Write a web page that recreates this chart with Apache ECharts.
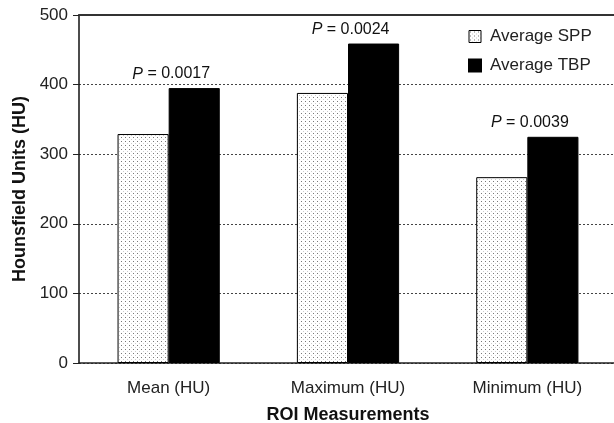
<!DOCTYPE html>
<html lang="en">
<head>
    <meta charset="UTF-8">
    <title>ROI Measurements</title>
    <style>
        html, body { margin: 0; padding: 0; background: #fff; }
        #main { width: 614px; height: 423px; }
    </style>
</head>
<body>
<div id="main"></div>
<script src="https://cdn.jsdelivr.net/npm/echarts@6/dist/echarts.min.js"></script>
<script type="text/javascript">
    // data
    var categories = ['Mean (HU)', 'Maximum (HU)', 'Minimum (HU)'];
    var avgSPP = [329, 388, 267];
    var avgTBP = [395, 459, 325];
    var pValues = ['0.0017', '0.0024', '0.0039'];
    var yTicks = [0, 100, 200, 300, 400, 500];

    var font = 'Liberation Sans, Arial, sans-serif';

    // dotted fill for the SPP bars
    var dots = document.createElement('canvas');
    dots.width = 4;
    dots.height = 4;
    var g = dots.getContext('2d');
    g.fillStyle = '#fff';
    g.fillRect(0, 0, 4, 4);
    g.fillStyle = '#777';
    g.fillRect(1, 1, 1, 1);
    g.fillStyle = '#ccc';
    g.fillRect(3, 3, 1, 1);
    var dotFill = {image: dots, repeat: 'repeat'};

    var chart = echarts.init(document.getElementById('main'), null, {renderer: 'canvas'});

    chart.setOption({
        animation: false,
        textStyle: {fontFamily: font, color: '#222'},
        grid: {left: 79, right: -3, top: 15, bottom: 60, outerBoundsMode: 'none'},
        legend: {
            orient: 'vertical',
            left: 463,
            top: 23,
            itemWidth: 12,
            itemHeight: 12,
            itemGap: 12,
            textStyle: {fontSize: 17, color: '#222', fontFamily: font, padding: [0, 0, 0, 4]},
            data: [
                {name: 'Average SPP', icon: 'rect', itemStyle: {color: dotFill, borderColor: '#000', borderWidth: 1}},
                {name: 'Average TBP', icon: 'rect', itemStyle: {color: '#000'}}
            ]
        },
        xAxis: [{
            type: 'category',
            data: categories,
            name: 'ROI Measurements',
            nameLocation: 'middle',
            nameGap: 43,
            nameTextStyle: {fontSize: 18, fontWeight: 'bold', color: '#111', fontFamily: font},
            axisLine: {lineStyle: {color: '#222', width: 1.5}},
            axisTick: {length: 6, lineStyle: {color: '#222'}},
            axisLabel: {fontSize: 17, color: '#222', margin: 17, fontFamily: font}
        }, {
            // solid line along the top of the plot
            type: 'category',
            data: categories,
            position: 'top',
            axisLine: {lineStyle: {color: '#333', width: 2}},
            axisTick: {show: false},
            axisLabel: {show: false}
        }],
        yAxis: {
            type: 'value',
            min: yTicks[0],
            max: yTicks[yTicks.length - 1],
            interval: 100,
            name: 'Hounsfield Units (HU)',
            nameLocation: 'middle',
            nameGap: 50,
            nameTextStyle: {fontSize: 18, fontWeight: 'bold', color: '#111', fontFamily: font},
            axisLine: {show: true, lineStyle: {color: '#111', width: 1.5}},
            axisTick: {show: true, length: 6, lineStyle: {color: '#222'}},
            axisLabel: {fontSize: 17, color: '#222', margin: 11, fontFamily: font},
            splitLine: {show: true, lineStyle: {color: '#444', width: 1, type: [2, 2]}}
        },
        series: [{
            name: 'Average SPP',
            type: 'bar',
            data: avgSPP,
            barGap: '0%',
            barCategoryGap: '43%',
            itemStyle: {color: dotFill, borderColor: '#000', borderWidth: 1}
        }, {
            name: 'Average TBP',
            type: 'bar',
            data: avgTBP,
            itemStyle: {color: '#000', borderColor: '#000', borderWidth: 1},
            label: {
                show: true,
                position: 'top',
                distance: 5,
                offset: [-23, -1],
                fontSize: 16,
                color: '#111',
                fontFamily: font,
                formatter: function (p) {
                    return '{i|P} = ' + pValues[p.dataIndex];
                },
                rich: {
                    i: {fontStyle: 'italic', fontSize: 16, color: '#111', fontFamily: font}
                }
            }
        }]
    });
</script>
</body>
</html>
